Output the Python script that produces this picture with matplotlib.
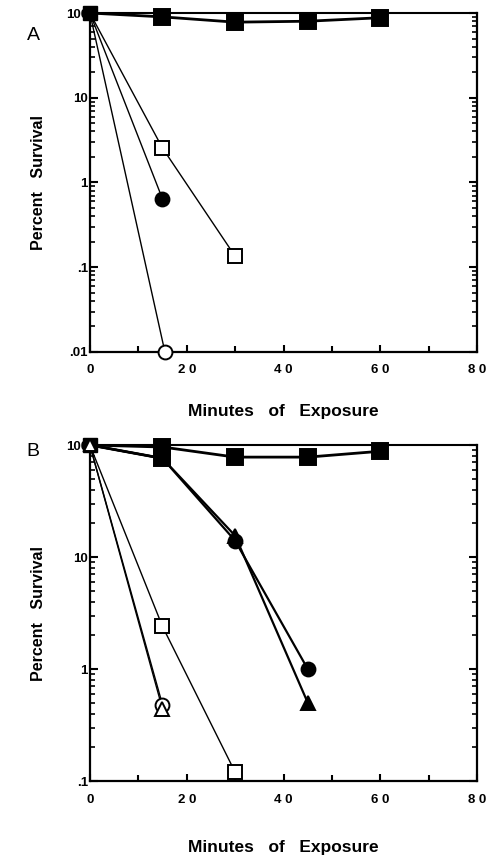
import matplotlib
matplotlib.use("Agg")
import matplotlib.pyplot as plt
from matplotlib.ticker import FixedLocator, LogLocator, NullFormatter

plt.rcParams["font.family"] = ["Liberation Sans", "DejaVu Sans"]

# panel A: minutes of exposure vs percent survival
A_SQF_X = [0, 15, 30, 45, 60]
A_SQF_Y = [100, 90, 78, 80, 88]
A_SQO_X = [0, 15, 30]
A_SQO_Y = [100, 2.55, 0.135]
A_CIF_X = [0, 15]
A_CIF_Y = [100, 0.64]
A_CIO_X = [0, 15.5]
A_CIO_Y = [100, 0.01]

# panel B
B_SQF_X = [0, 15, 30, 45, 60]
B_SQF_Y = [100, 96, 78, 78, 88]
B_SQF2_X = [0, 15]
B_SQF2_Y = [100, 76]
B_CIF_X = [0, 15, 30, 45]
B_CIF_Y = [100, 76, 14.0, 1.0]
B_TRF_X = [0, 15, 30, 45]
B_TRF_Y = [100, 76, 15.5, 0.5]
B_SQO_X = [0, 15, 30]
B_SQO_Y = [100, 2.4, 0.12]
B_CIO_X = [0, 15]
B_CIO_Y = [100, 0.48]
B_TRO_X = [0, 15]
B_TRO_Y = [100, 0.44]

X_TICKS = [0, 20, 40, 60, 80]
X_LABELS = ["0", "2 0", "4 0", "6 0", "8 0"]


def series(ax, x, y, marker, filled, lw=1.0, ms=10, z=3):
    ax.plot(x, y, color="black", lw=lw, zorder=z, solid_joinstyle="miter")
    ax.plot(x[1:], y[1:], ls="none", marker=marker, ms=ms,
            mfc="black" if filled else "white", mec="black", mew=1.4,
            zorder=z + 1, clip_on=False)


def style(ax, ymin, yticks, ylabels, xpad):
    ax.set_yscale("log")
    ax.set_xlim(0, 80)
    ax.set_ylim(ymin, 100)
    ax.set_yticks(yticks)
    ax.set_yticklabels(ylabels)
    ax.yaxis.set_minor_locator(LogLocator(base=10, subs=range(2, 10)))
    ax.yaxis.set_minor_formatter(NullFormatter())
    ax.set_xticks(X_TICKS)
    ax.set_xticklabels(X_LABELS)
    ax.xaxis.set_minor_locator(FixedLocator([10, 30, 50, 70]))
    ax.tick_params(axis="y", which="both", direction="in", left=True, right=True, pad=1.5)
    ax.tick_params(axis="y", which="major", length=6, width=1.5)
    ax.tick_params(axis="y", which="minor", length=3.5, width=1.2)
    ax.tick_params(axis="x", which="both", direction="in", top=False, width=1.5)
    ax.tick_params(axis="x", which="major", length=5, pad=9)
    ax.tick_params(axis="x", which="minor", length=4)
    for lab in ax.get_xticklabels() + ax.get_yticklabels():
        lab.set_fontweight("bold")
        lab.set_fontsize(9.5)
    for side in ["left", "bottom", "right"]:
        ax.spines[side].set_linewidth(1.6)
    ax.spines["top"].set_linewidth(1.5)
    ax.set_xlabel("Minutes   of   Exposure", fontsize=12.5, fontweight="bold", labelpad=xpad)
    ax.set_ylabel("Percent   Survival", fontsize=11.5, fontweight="bold", labelpad=14)


fig = plt.figure(figsize=(4.91, 8.56), dpi=100)
ax_a = fig.add_axes([0.183, 0.5888, 0.789, 0.396])
ax_b = fig.add_axes([0.183, 0.0876, 0.789, 0.3925])

series(ax_a, A_SQO_X, A_SQO_Y, "s", False)
series(ax_a, A_CIF_X, A_CIF_Y, "o", True)
series(ax_a, A_CIO_X, A_CIO_Y, "o", False)
series(ax_a, A_SQF_X, A_SQF_Y, "s", True, lw=2.0, ms=11, z=5)
ax_a.plot([0], [100], ls="none", marker="s", ms=10, color="black", zorder=8, clip_on=False)
style(ax_a, 0.01, [0.01, 0.1, 1, 10, 100], [".01", ".1", "1", "10", "100"], 20)
fig.text(0.068, 0.958, "A", fontsize=14, ha="center", va="center")

series(ax_b, B_SQO_X, B_SQO_Y, "s", False)
series(ax_b, B_CIO_X, B_CIO_Y, "o", False)
series(ax_b, B_TRO_X, B_TRO_Y, "^", False)
series(ax_b, B_CIF_X, B_CIF_Y, "o", True, lw=1.6)
series(ax_b, B_TRF_X, B_TRF_Y, "^", True, lw=1.6)
series(ax_b, B_SQF_X, B_SQF_Y, "s", True, lw=2.0, ms=11, z=5)
series(ax_b, B_SQF2_X, B_SQF2_Y, "s", True, lw=2.0, ms=11, z=5)
ax_b.plot([0], [100], ls="none", marker="s", ms=10, color="black", zorder=8, clip_on=False)
ax_b.plot([0], [100], ls="none", marker="^", ms=8, mfc="white", mec="black", mew=1.4,
          zorder=9, clip_on=False)
style(ax_b, 0.1, [0.1, 1, 10, 100], [".1", "1", "10", "100"], 25)
fig.text(0.066, 0.472, "B", fontsize=14, ha="center", va="center")

fig.savefig("out.png", dpi=100)
